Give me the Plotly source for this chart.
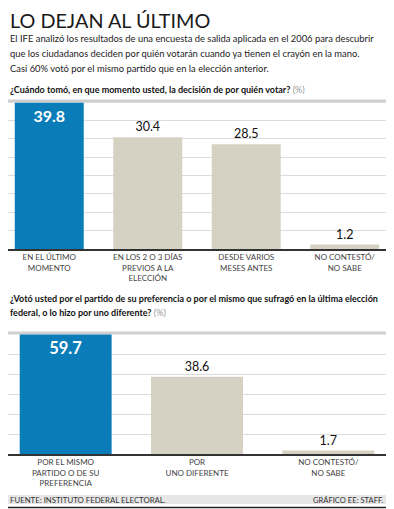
import plotly.graph_objects as go

FONT = "Lato, Roboto, Liberation Sans, sans-serif"

title = "LO DEJAN AL ÚLTIMO"
subtitle_lines = [
    "El IFE analizó los resultados de una encuesta de salida aplicada en el 2006 para descubrir",
    "que los ciudadanos deciden por quién votarán cuando ya tienen el crayón en la mano.",
    "Casi 60% votó por el mismo partido que en la elección anterior.",
]
q1 = "¿Cuándo tomó, en que momento usted, la decisión de por quién votar?"
q2_lines = [
    "¿Votó usted por el partido de su preferencia o por el mismo que sufragó en la última elección",
    "federal, o lo hizo por uno diferente?",
]
cats1 = ["EN EL ÚLTIMO<br>MOMENTO", "EN LOS 2 O 3 DÍAS<br>PREVIOS A LA<br>ELECCIÓN",
         "DESDE VARIOS<br>MESES ANTES", "NO CONTESTÓ/<br>NO SABE"]
vals1 = [39.8, 30.4, 28.5, 1.2]
cats2 = ["POR EL MISMO<br>PARTIDO O DE SU<br>PREFERENCIA", "POR<br>UNO DIFERENTE",
         "NO CONTESTÓ/<br>NO SABE"]
vals2 = [59.7, 38.6, 1.7]
source = "FUENTE: INSTITUTO FEDERAL ELECTORAL."
credit = "GRÁFICO EE: STAFF."

BLUE = "#0a7db8"
BEIGE = "#d6d2c3"
OFF = 8          # page body margin
W, H = 394 - OFF, 509 - OFF
REF_W = 394


def py(p):
    """reference pixel row -> paper y"""
    return 1 - (p - OFF) / H


def xrange_for(n):
    unit = REF_W / n
    span = W / unit
    return [n - 0.5 - span, n - 0.5]


def bar_trace(cats, vals, xa, ya, big):
    colors = [BLUE] + [BEIGE] * (len(vals) - 1)
    texts = [f"<b>{v}</b>" if i == 0 else f"{v}" for i, v in enumerate(vals)]
    pos = ["inside"] + ["outside"] * (len(vals) - 1)
    tcol = ["white"] + ["#111"] * (len(vals) - 1)
    tsize = [big] + [12.5] * (len(vals) - 1)
    return go.Bar(x=list(range(len(cats))), y=vals, xaxis=xa, yaxis=ya,
                  marker=dict(color=colors, line=dict(width=0)),
                  text=texts, textposition=pos, insidetextanchor="end",
                  textfont=dict(color=tcol, size=tsize, family=FONT), cliponaxis=False,
                  hoverinfo="skip", showlegend=False)


fig = go.Figure()
fig.add_trace(bar_trace(cats1, vals1, "x", "y", 16))
fig.add_trace(bar_trace(cats2, vals2, "x2", "y2", 16.5))

axis_common = dict(showline=True, linecolor="#333", linewidth=1.5, ticks="", fixedrange=True,
                   tickfont=dict(family=FONT, size=8, color="#444"), showgrid=False, zeroline=False)
yax_common = dict(showgrid=True, gridcolor="#dcdcdc", gridwidth=1, showticklabels=False,
                  zeroline=False, fixedrange=True)

fig.update_layout(
    width=W, height=H, margin=dict(l=0, r=0, t=0, b=0),
    paper_bgcolor="white", plot_bgcolor="white", bargap=0.30,
    font=dict(family=FONT),
    xaxis=dict(domain=[0, 1], anchor="y", range=xrange_for(len(cats1)),
               tickmode="array", tickvals=list(range(len(cats1))), ticktext=cats1, **axis_common),
    yaxis=dict(domain=[py(249), py(101)], range=[0, 40.3], dtick=5, anchor="x", **yax_common),
    xaxis2=dict(domain=[0, 1], anchor="y2", range=xrange_for(len(cats2)),
                tickmode="array", tickvals=list(range(len(cats2))), ticktext=cats2, **axis_common),
    yaxis2=dict(domain=[py(454), py(333)], range=[0, 60.5], dtick=10, anchor="x2", **yax_common),
)

ann = []
ann.append(dict(text=title, x=0, y=1 + 2 / H, xref="paper", yref="paper", xanchor="left", yanchor="top",
                showarrow=False, font=dict(family=FONT, size=19.8, color="#1a1a1a")))
for i, line in enumerate(subtitle_lines):
    ann.append(dict(text=line, x=0, y=py(38 + 15 * i), xref="paper", yref="paper", xanchor="left",
                    yanchor="middle", showarrow=False, font=dict(family=FONT, size=9.4, color="#222")))
ann.append(dict(text=f"<b>{q1}</b> <span style='color:#999'>(%)</span>", x=0, y=py(89), xref="paper",
                yref="paper", xanchor="left", yanchor="middle", showarrow=False,
                font=dict(family=FONT, size=9, color="#111")))
for i, line in enumerate(q2_lines):
    t = f"<b>{line}</b>" + (" <span style='color:#999'>(%)</span>" if i == len(q2_lines) - 1 else "")
    ann.append(dict(text=t, x=0, y=py(298 + 14 * i), xref="paper", yref="paper", xanchor="left",
                    yanchor="middle", showarrow=False, font=dict(family=FONT, size=9, color="#111")))
ann.append(dict(text=source, x=0, y=py(499.5), xref="paper", yref="paper", xanchor="left",
                yanchor="middle", showarrow=False, font=dict(family=FONT, size=7.8, color="#333")))
ann.append(dict(text=credit, x=1 - 8 / W, y=py(499.5), xref="paper", yref="paper", xanchor="right",
                yanchor="middle", showarrow=False, font=dict(family=FONT, size=7.6, color="#333")))
fig.update_layout(annotations=ann)

shapes = [
    dict(type="line", xref="paper", yref="paper", x0=0, x1=1, y0=py(101), y1=py(101),
         line=dict(color="#cfcfcf", width=3), layer="below"),
    dict(type="line", xref="paper", yref="paper", x0=0, x1=1, y0=py(333), y1=py(333),
         line=dict(color="#cfcfcf", width=3), layer="below"),
    dict(type="rect", xref="paper", yref="paper", x0=0, x1=1, y0=py(504), y1=py(495),
         fillcolor="#e6e6e6", line=dict(width=0), layer="below"),
    dict(type="line", xref="paper", yref="paper", x0=0, x1=1, y0=py(507.5), y1=py(507.5),
         line=dict(color="#222", width=1.5)),
]
fig.update_layout(shapes=shapes)

fig.write_html("out.html")
